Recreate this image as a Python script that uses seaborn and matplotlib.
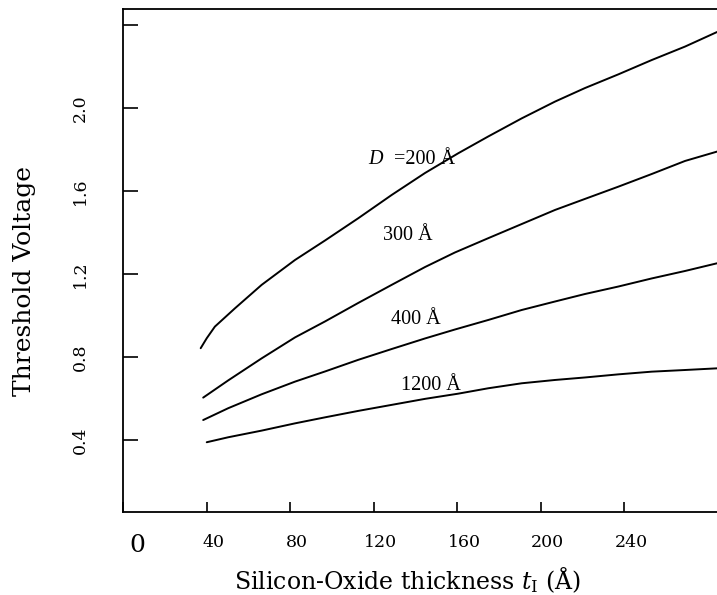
import pandas as pd
import matplotlib.pyplot as plt
import matplotlib.transforms as mtransforms
import seaborn as sns

# oxide thickness (Angstrom) and threshold voltage
t_200 = [37.0, 39.9, 43.8, 53.4, 66.2, 82.2, 96.6, 112.5, 128.5, 144.5,
         160.4, 174.8, 190.8, 206.8, 221.1, 237.1, 253.1, 269.1, 284.4]
v_200 = [0.844, 0.892, 0.948, 1.036, 1.149, 1.269, 1.363, 1.470, 1.582, 1.688,
         1.783, 1.864, 1.951, 2.032, 2.097, 2.163, 2.232, 2.297, 2.367]

t_300 = [38.2, 50.2, 66.2, 82.2, 96.6, 112.5, 128.5, 144.5, 158.8,
         174.8, 190.8, 206.8, 221.1, 237.1, 253.1, 269.1, 284.4]
v_300 = [0.606, 0.689, 0.795, 0.896, 0.973, 1.062, 1.149, 1.235, 1.305,
         1.374, 1.442, 1.510, 1.563, 1.622, 1.683, 1.746, 1.791]

t_400 = [38.2, 50.2, 66.2, 82.2, 96.6, 112.5, 128.5, 144.5, 158.8,
         174.8, 190.8, 206.8, 221.1, 237.1, 253.1, 269.1, 284.4]
v_400 = [0.498, 0.555, 0.622, 0.683, 0.732, 0.788, 0.840, 0.891, 0.934,
         0.980, 1.028, 1.069, 1.105, 1.141, 1.180, 1.216, 1.253]

t_1200 = [39.9, 50.2, 66.2, 82.2, 96.6, 112.5, 128.5, 144.5, 160.4,
          174.8, 190.8, 206.8, 221.1, 237.1, 253.1, 269.1, 284.4]
v_1200 = [0.391, 0.415, 0.447, 0.482, 0.511, 0.542, 0.571, 0.600, 0.625,
          0.651, 0.675, 0.691, 0.703, 0.718, 0.731, 0.739, 0.747]

x_ticks = [0, 40, 80, 120, 160, 200, 240]
y_ticks = [0.4, 0.8, 1.2, 1.6, 2.0, 2.4]
y_tick_labels = ['0.4', '0.8', '1.2', '1.6', '2.0', '']

dfs = []
for name, t, v in [('200', t_200, v_200), ('300', t_300, v_300),
                   ('400', t_400, v_400), ('1200', t_1200, v_1200)]:
    dfs.append(pd.DataFrame({'t': t, 'V': v, 'D': name}))
df = pd.concat(dfs).reset_index(drop=True)

sns.set_style('ticks')
plt.rcParams['font.family'] = ['DejaVu Serif']
plt.rcParams['mathtext.fontset'] = 'dejavuserif'
for key in ['text.color', 'axes.labelcolor', 'xtick.color', 'ytick.color']:
    plt.rcParams[key] = 'black'

fig = plt.figure(figsize=(7.17, 5.95), dpi=100)
ax = fig.add_axes([0.1722, 0.1395, 0.8278, 0.8454])

sns.lineplot(data=df, x='t', y='V', hue='D', estimator=None, sort=False,
             palette=['black'] * 4, legend=False, linewidth=1.4, ax=ax)

ax.set_xlim(0, 284.4)
ax.set_ylim(0.055, 2.478)

ax.set_xticks(x_ticks)
ax.set_xticklabels([str(x) for x in x_ticks], fontsize=12.5)
ax.get_xticklabels()[0].set_fontsize(18)
ax.set_yticks(y_ticks)
ax.set_yticklabels(y_tick_labels, fontsize=12.5, rotation=90, va='center')

ax.tick_params(axis='y', direction='in', length=11, width=1.2, pad=25)
ax.tick_params(axis='x', direction='in', length=7, width=1.2, pad=16)

# tick labels in the original sit a little right of their ticks
for i, label in enumerate(ax.get_xticklabels()):
    dx = 10 if i == 0 else 5
    label.set_transform(label.get_transform()
                        + mtransforms.ScaledTranslation(dx / 72, 0, fig.dpi_scale_trans))

for side in ['left', 'top', 'bottom']:
    ax.spines[side].set_linewidth(1.3)
    ax.spines[side].set_color('black')
ax.spines['right'].set_visible(False)

ax.set_xlabel(r'Silicon-Oxide thickness $t_{\mathrm{I}}$ (Å)', fontsize=17)
ax.set_ylabel('Threshold Voltage', fontsize=18)
ax.xaxis.set_label_coords(0.479, -0.105)
ax.yaxis.set_label_coords(-0.148, 0.459)

lab = dict(fontsize=14.5, family='Liberation Serif', va='center')
ax.text(117.2, 1.751, 'D', style='italic', ha='left', **lab)
ax.text(129.5, 1.751, '=200 Å', ha='left', **lab)
ax.text(136.3, 1.385, '300 Å', ha='center', **lab)
ax.text(140.2, 0.980, '400 Å', ha='center', **lab)
ax.text(147.3, 0.662, '1200 Å', ha='center', **lab)

plt.savefig('out.png', dpi=100)
